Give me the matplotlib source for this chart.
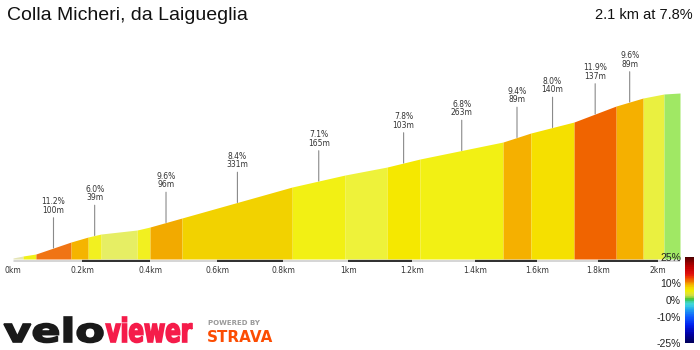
import numpy as np
import matplotlib
matplotlib.use('Agg')
import matplotlib.pyplot as plt
from matplotlib.colors import LinearSegmentedColormap
from matplotlib.textpath import TextPath
from matplotlib.patches import PathPatch
from matplotlib.font_manager import FontProperties
from matplotlib.transforms import Affine2D

title = 'Colla Micheri, da Laigueglia'
summary = '2.1 km at 7.8%'

# band edges along the climb (km) and height gained at each edge (m)
dist_km = [0, 0.029, 0.066, 0.168, 0.218, 0.256, 0.362, 0.400, 0.495, 0.828,
           0.991, 1.122, 1.225, 1.490, 1.580, 1.721, 1.860, 1.950, 2.020, 2.074]
elev_m = [1, 3, 5, 17, 22, 25, 29, 32, 41, 72,
          84, 92, 100, 117, 126, 137, 153, 161, 165, 166]

band_colors = ['#e4e4b4', '#f0f018', '#f07414', '#f5b400', '#f2f020', '#e6ee64',
               '#f2f020', '#f2aa00', '#f2d200', '#f2f014', '#eef23a', '#f5e800',
               '#f2f014', '#f5b000', '#f5e000', '#f06400', '#f5b000', '#eaf040',
               '#a0e864']

# labelled segments
label_band = [2, 4, 7, 8, 9, 11, 12, 13, 14, 15, 16]
label_grade = ['11.2%', '6.0%', '9.6%', '8.4%', '7.1%', '7.8%', '6.8%', '9.4%',
               '8.0%', '11.9%', '9.6%']
label_len = ['100m', '39m', '96m', '331m', '165m', '103m', '263m', '89m',
             '140m', '137m', '89m']

km_ticks = [0, 0.2, 0.4, 0.6, 0.8, 1.0, 1.2, 1.4, 1.6, 1.8, 2.0]
grade_ticks = [25, 10, 0, -10, -25]

# gradient legend colours, bottom (-25%) to top (25%)
legend_stops = [-25, -20, -15, -10, -6, -3, -1, 0, 1.5, 3, 5, 7, 9, 11, 13, 15, 19, 22, 25]
legend_colors = ['#000060', '#0000a8', '#0020f0', '#1060ff', '#20a0f0', '#40d8e0',
                 '#40d0a0', '#30c030', '#a0d840', '#e0e040', '#f0f000', '#f5d800',
                 '#f5b000', '#f07000', '#f03c00', '#e01010', '#c00000', '#900000',
                 '#500000']


# veloviewer squeezes the x axis slightly towards the end
def fwd(d):
    d = np.asarray(d, dtype=float)
    return 347.5 * d - 12.5 * d ** 2


def inv(p):
    p = np.asarray(p, dtype=float)
    return (347.5 - np.sqrt(np.clip(347.5 ** 2 - 50 * p, 0, None))) / 25


def word(ax, text, x0, x1, base, top, color):
    fp = FontProperties(family='DejaVu Sans', weight='bold')
    tp = TextPath((0, 0), text, size=1, prop=fp)
    ext = tp.get_extents()
    sx = (x1 - x0) / ext.width
    sy = (base - top) / ext.y1
    tr = Affine2D().translate(-ext.x0, 0).scale(sx, -sy).translate(x0, base)
    ax.add_patch(PathPatch(tr.transform_path(tp), fc=color, ec=color, lw=1.2))


fig = plt.figure(figsize=(7, 3.5), dpi=100)

# pixel overlay for the logo
over = fig.add_axes([0, 0, 1, 1])
over.set_xlim(0, 700)
over.set_ylim(350, 0)
over.axis('off')
word(over, 'velo', 4, 103, 342, 317, '#1a1a1a')
word(over, 'viewer', 106, 192, 342, 317, '#f51c4a')
over.text(208, 323, 'POWERED BY', fontsize=5, fontweight='bold', color='#9a9a9a',
          va='center', ha='left')
over.text(207, 338, 'STRAVA', fontsize=10.9, fontweight='bold', color='#fc4c02',
          va='center', ha='left')

fig.text(7 / 700, 1 - 15 / 350, title, fontsize=14, family='Liberation Sans',
         color='#111111', va='center', ha='left')
fig.text(693 / 700, 1 - 15 / 350, summary, fontsize=10.5, family='Liberation Sans',
         color='#111111', va='center', ha='right')

# profile
ax = fig.add_axes([13 / 700, 88 / 350, 667 / 700, 202 / 350])
ax.patch.set_alpha(0)
ax.set_xscale('function', functions=(fwd, inv))
ax.set_xlim(0, dist_km[-1])
ax.set_ylim(-3, 199)

for i, c in enumerate(band_colors):
    ax.fill_between(dist_km[i:i + 2], 0, elev_m[i:i + 2], color=c, lw=0)

ax.plot([0, dist_km[-1]], [-1.5, -1.5], color='#d6d6d6', lw=2.2, solid_capstyle='butt')
for k in range(1, len(km_ticks) - 1, 2):
    ax.plot(km_ticks[k:k + 2], [-1.5, -1.5], color='#333333', lw=1.6,
            solid_capstyle='butt')

for b, g, l in zip(label_band, label_grade, label_len):
    xm = (dist_km[b] + dist_km[b + 1]) / 2
    ym = (elev_m[b] + elev_m[b + 1]) / 2
    ax.annotate(g + '\n' + l, xy=(xm, ym), xytext=(0, 23.8), textcoords='offset points',
                ha='center', va='bottom', fontsize=5.5, color='#333333', linespacing=0.95,
                arrowprops=dict(arrowstyle='-', color='#8a8a8a', lw=0.8,
                                shrinkA=0, shrinkB=0))

ax.set_xticks(km_ticks)
ax.set_xticklabels([f'{k:g}km' for k in km_ticks])
ax.tick_params(axis='x', length=0, pad=3, labelsize=5.5, labelcolor='#333333')
ax.set_yticks([])
for s in ax.spines.values():
    s.set_visible(False)

# gradient legend
pos = [(v + 25) / 50 for v in legend_stops]
cmap = LinearSegmentedColormap.from_list('grade', list(zip(pos, legend_colors)), N=48)
cax = fig.add_axes([685 / 700, 7 / 350, 9 / 700, 86 / 350])
grad = np.linspace(25, -25, 200).reshape(-1, 1)
cax.imshow(grad, cmap=cmap, vmin=-25, vmax=25, extent=[0, 1, -25, 25], aspect='auto')
cax.set_xticks([])
cax.set_yticks(grade_ticks)
cax.set_yticklabels([f'{t}%' for t in grade_ticks], fontfamily='Liberation Sans')
cax.tick_params(axis='y', length=0, pad=3, labelsize=7.5, labelcolor='#222222')
for s in cax.spines.values():
    s.set_visible(False)

fig.savefig('out.png', dpi=100)
